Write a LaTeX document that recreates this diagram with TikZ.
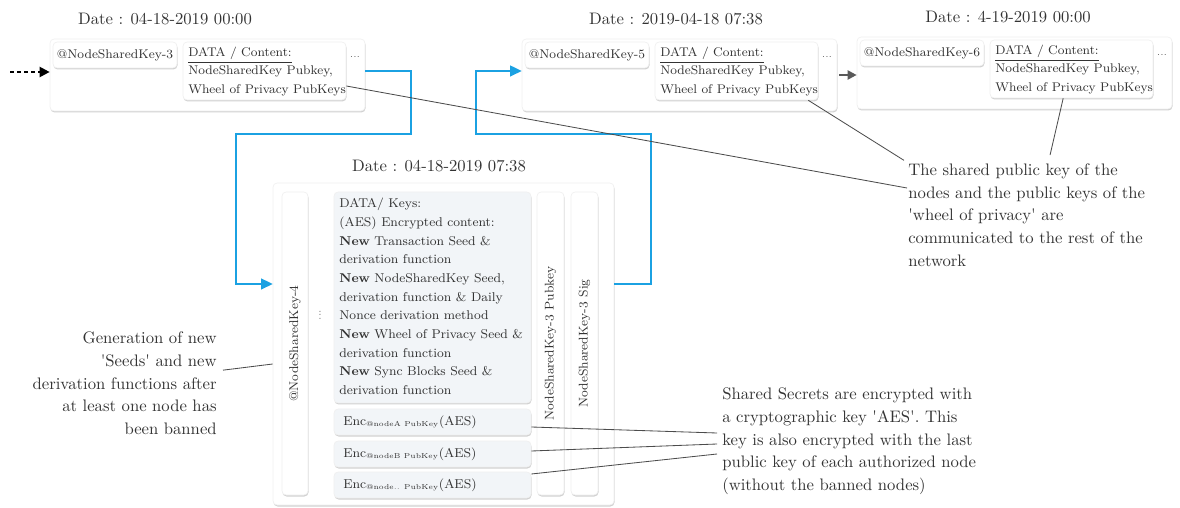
\documentclass[tikz,border=0pt]{standalone}
\usepackage{tikz}
\usetikzlibrary{shadows,fit,arrows.meta}
\definecolor{flowblue}{RGB}{27,161,226}
\definecolor{cellgray}{RGB}{242,245,248}
\definecolor{inkgray}{RGB}{51,51,51}

\begin{document}
\begin{tikzpicture}[x=0.6pt,y=-0.6pt,
   card/.style={rectangle,rounded corners=2.5pt,fill=white,draw=black!6,inner sep=0pt,
      drop shadow={shadow xshift=0.3pt,shadow yshift=-0.9pt,opacity=0.18,fill=black}},
   cell/.style={card,fill=#1},cell/.default=white,
   txt/.style={font=\fontsize{7.6}{11}\selectfont,text=inkgray,inner sep=0pt,align=left},
   note/.style={font=\fontsize{10}{13.6}\selectfont,text=inkgray,inner sep=0pt},
   date/.style={font=\fontsize{10}{12}\selectfont,text=inkgray,inner sep=0pt},
   dots/.style={font=\tiny,text=inkgray,inner sep=0pt},
   flow/.style={draw=flowblue,line width=1.3pt,-{Triangle[length=7pt,width=6.5pt]}},
   entry/.style={draw=black,line width=1.3pt,dash pattern=on 2.4pt off 1.8pt,-{Triangle[length=6pt,width=6pt]}},
   link/.style={draw=black!65,line width=1.3pt,-{Triangle[length=5.5pt,width=5.5pt]}},
   leader/.style={draw=black!70,line width=0.5pt}]
\useasboundingbox (0,0) rectangle (1180,508);

% blocks of the chain
\foreach \x/\y/\c/\k/\d in {50/39/165/3/04-18-2019 00:00,522/39/676/5/2019-04-18 07:38,857/37/1008/6/4-19-2019 00:00}{
   \node[date] (date\k) at (\c,\y-20) {Date : \d};
   \node[cell,fit={(\x,\y) (\x+315,\y+72)}] (blk\k) {};
   \node[cell,fit={(\x+3,\y+3) (\x+127,\y+29)}] (key\k) {};
   \node[cell,fit={(\x+133,\y+3) (\x+296,\y+61)}] (dat\k) {};
   \node[txt] (keytxt\k) at (key\k) {@NodeSharedKey-\k};
   \node[txt,anchor=west,font=\fontsize{7.55}{11.1}\selectfont] (cnt\k) at (\x+138,\y+32.5)
      {\underline{DATA / Content:}\\NodeSharedKey Pubkey,\\Wheel of Privacy PubKeys};
   \node[dots] (dots\k) at (\x+305,\y+18) {...};
}

% block with the new seeds
\node[date] (date4) at (439,166) {Date : 04-18-2019 07:38};
\node[cell,fit={(273,183) (614,505)}] (mid) {};
\node[cell,fit={(282,192) (308,495)}] (keycol) {};
\node[txt,rotate=90] (keytxt4) at (keycol) {@NodeSharedKey-4};
\node[dots,rotate=90] (dots4) at (320,315) {...};
\node[cell=cellgray,fit={(334,192) (531,403)}] (keys) {};
\node[txt,anchor=west,font=\fontsize{7.65}{11.2}\selectfont] (keystxt) at (339,296.5)
   {DATA/ Keys:\\(AES) Encrypted content:\\\textbf{New} Transaction Seed \&\\derivation function\\
    \textbf{New} NodeSharedKey Seed,\\derivation function \& Daily\\Nonce derivation method\\
    \textbf{New} Wheel of Privacy Seed \&\\derivation function\\
    \textbf{New} Sync Blocks Seed \&\\derivation function};
\foreach \i/\t/\s in {1/409/{@nodeA PubKey},2/441/{@nodeB PubKey},3/472/{@node.. PubKey}}{
   \node[cell=cellgray,fit={(334,\t) (531,\t+26)}] (enc\i) {};
   \node[txt,anchor=west,font=\fontsize{7.7}{10}\selectfont] (enctxt\i) at (343,\t+13)
      {Enc\textsubscript{\fontsize{4.3}{5}\selectfont\s}(AES)};
}
\node[cell,fit={(537,192) (564,495)}] (pubcol) {};
\node[txt,rotate=90] (pubtxt) at (pubcol) {NodeSharedKey-3 Pubkey};
\node[cell,fit={(571,192) (598,495)}] (sigcol) {};
\node[txt,rotate=90] (sigtxt) at (sigcol) {NodeSharedKey-3 Sig};

% notes
\node[note,anchor=west,align=left] (noteA) at (908,215)
   {The shared public key of the\\nodes and the public keys of the\\
    \textquotesingle wheel of privacy\textquotesingle{} are\\communicated to the rest of the\\network};
\node[note,anchor=east,align=right] (noteB) at (217,383.5)
   {Generation of new\\\textquotesingle Seeds\textquotesingle{} and new\\derivation functions after\\
    at least one node has\\been banned};
\node[note,anchor=west,align=left] (noteC) at (722,441.5)
   {Shared Secrets are encrypted with\\a cryptographic key \textquotesingle AES\textquotesingle. This\\
    key is also encrypted with the last\\public key of each authorized node\\(without the banned nodes)};

% connectors
\coordinate (inA) at (10,72);
\coordinate (turnA) at (411,134);
\coordinate (turnB) at (236,284);
\coordinate (turnC) at (651,284);
\coordinate (turnD) at (476,134);
\draw[entry] (inA) -- (inA -| blk3.west);
\draw[flow] ([yshift=2.4pt]blk3.east) -| (turnA) -| (turnB) -- (turnB -| mid.west);
\draw[flow] (turnC -| mid.east) -- (turnC) |- (turnD) |- ([yshift=2.4pt]blk5.west);
\draw[link] ([xshift=1pt]blk5.east) -- (blk5.east -| blk6.west);

\draw[leader] ([yshift=-9pt]dat3.east) -- ([xshift=-0.6pt,yshift=16.2pt]noteA.west);
\draw[leader] ([xshift=-6pt]dat5.south east) -- ([xshift=-2.4pt,yshift=1.8pt]noteA.north west);
\draw[leader] ([xshift=-5pt]dat6.south) -- ([xshift=14pt,yshift=5pt]noteA.north);
\draw[leader] ([xshift=3.6pt,yshift=8pt]noteB.east) -- ([yshift=-12pt]mid.west);
\foreach \i/\a/\b in {1/-3pt/5.1pt,2/1.8pt/-1.5pt,3/6.6pt/-7.5pt}
   \draw[leader] ([yshift=\a]enc\i.east) -- ([xshift=-3pt,yshift=\b]noteC.west);
\end{tikzpicture}
\end{document}
